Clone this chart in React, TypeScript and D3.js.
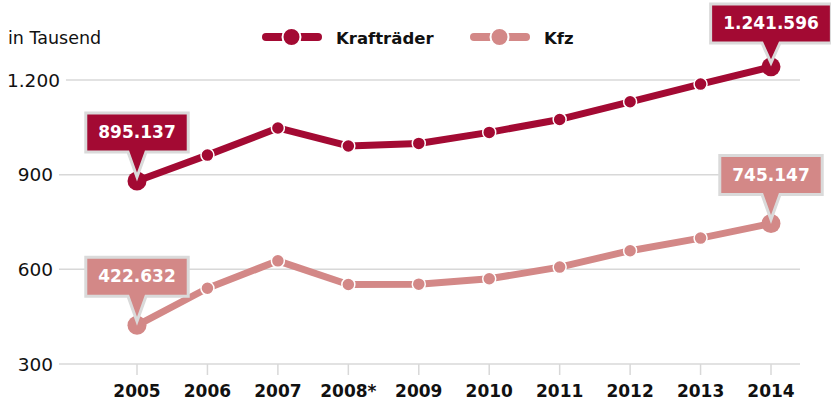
import React from 'react';
import * as d3 from 'd3';

// data (in thousands)
const years = ['2005', '2006', '2007', '2008*', '2009', '2010', '2011', '2012', '2013', '2014'];
const kraftraeder = [880, 962, 1048, 991, 999, 1034, 1075, 1131, 1187, 1241.596];
const kfz = [422.632, 540, 627, 552, 553, 570, 607, 659, 699, 745.147];
const kraftraederLabels = ['895.137', '1.241.596'];
const kfzLabels = ['422.632', '745.147'];
const yTicks = [300, 600, 900, 1200];
const seriesNames = ['Krafträder', 'Kfz'];

const RED = '#a30a33';
const PINK = '#d38887';
const GRID = '#d8d8d8';
const FONT = "'DejaVu Sans', Verdana, sans-serif";

const fmt = (v: number) => (v >= 1000 ? d3.format(',')(v).replace(/,/g, '.') : String(v));

// rough width of digits/dots (DejaVu Sans metrics)
const textWidth = (s: string, size: number, bold = false) =>
  s.split('').reduce((w, c) => w + (c === '.' ? size * (bold ? 0.38 : 0.318) : size * (bold ? 0.696 : 0.636)), 0);

const Callout = ({ x, y, text, color }: { x: number; y: number; text: string; color: string }) => {
  const fs = 17;
  const w = textWidth(text, fs, true) + 25;
  const h = 39;
  let top = y - 29 - h;
  if (top < 4) top = 4;
  const bottom = top + h;
  const left = x - w / 2;
  const tipY = y - 4;
  const path =
    `M${left},${top} H${left + w} V${bottom} H${x + 9} L${x},${tipY} L${x - 9},${bottom} H${left} Z`;
  return (
    <g>
      <path d={path} fill={color} stroke="#dadada" strokeWidth={3} strokeLinejoin="miter" />
      <text x={x} y={top + 25} textAnchor="middle" fill="#fff" fontSize={fs} fontWeight={700} fontFamily={FONT}>
        {text}
      </text>
    </g>
  );
};

const App = () => {
  const width = 831;
  const height = 400;

  const xScale = d3.scalePoint<string>().domain(years).range([137, 771]);
  const yScale = d3.scaleLinear().domain([300, 1200]).range([364, 80]);

  const line = d3
    .line<number>()
    .x((d, i) => xScale(years[i]) as number)
    .y((d) => yScale(d));

  const series = [
    { name: seriesNames[0], values: kraftraeder, labels: kraftraederLabels, color: RED },
    { name: seriesNames[1], values: kfz, labels: kfzLabels, color: PINK },
  ];

  const last = years.length - 1;

  return (
    <svg width={width} height={height} style={{ position: 'absolute', left: 0, top: 0 }}>
      <rect width={width} height={height} fill="#fff" />

      <text x={8} y={44} fontSize={17.5} fontFamily={FONT} fill="#111">in Tausend</text>

      {/* legend */}
      {series.map((s, i) => {
        const lx = i === 0 ? 263 : 471;
        return (
          <g key={s.name}>
            <line x1={lx + 3} x2={lx + 55} y1={37} y2={37} stroke={s.color} strokeWidth={8} strokeLinecap="round" />
            <circle cx={lx + 28.5} cy={37} r={9} fill={s.color} stroke="#fff" strokeWidth={2} />
            <text x={lx + 73} y={44} fontSize={16.5} fontWeight={700} fontFamily={FONT} fill="#111">{s.name}</text>
          </g>
        );
      })}

      {/* grid + y labels */}
      {yTicks.map((t) => {
        const label = fmt(t);
        const end = Math.max(53, 7 + textWidth(label, 18.5));
        return (
          <g key={t}>
            <line x1={end + 6} x2={800} y1={yScale(t)} y2={yScale(t)} stroke={GRID} strokeWidth={1.5} />
            <text x={end} y={yScale(t) + 6.5} textAnchor="end" fontSize={18.5} fontFamily={FONT} fill="#111">{label}</text>
          </g>
        );
      })}

      {/* x ticks + labels */}
      {years.map((yr) => (
        <g key={yr}>
          <line x1={xScale(yr)} x2={xScale(yr)} y1={364} y2={375} stroke={GRID} strokeWidth={1.5} />
          <text x={xScale(yr)} y={397} textAnchor="middle" fontSize={17} fontWeight={700} fontFamily={FONT} fill="#111">{yr}</text>
        </g>
      ))}

      {/* lines */}
      {series.map((s) => (
        <g key={s.name}>
          <path d={line(s.values) || ''} fill="none" stroke={s.color} strokeWidth={7} strokeLinejoin="round" />
          {s.values.map((v, i) => {
            const big = i === 0 || i === last;
            return (
              <circle
                key={i}
                cx={xScale(years[i])}
                cy={yScale(v)}
                r={big ? 9.5 : 6.5}
                fill={s.color}
                stroke="#fff"
                strokeWidth={big ? 0 : 1.5}
              />
            );
          })}
        </g>
      ))}

      {/* callouts */}
      {series.map((s) => (
        <g key={s.name + '-callouts'}>
          <Callout x={xScale(years[0]) as number} y={yScale(s.values[0])} text={s.labels[0]} color={s.color} />
          <Callout x={xScale(years[last]) as number} y={yScale(s.values[last])} text={s.labels[1]} color={s.color} />
        </g>
      ))}
    </svg>
  );
};

export default App;
